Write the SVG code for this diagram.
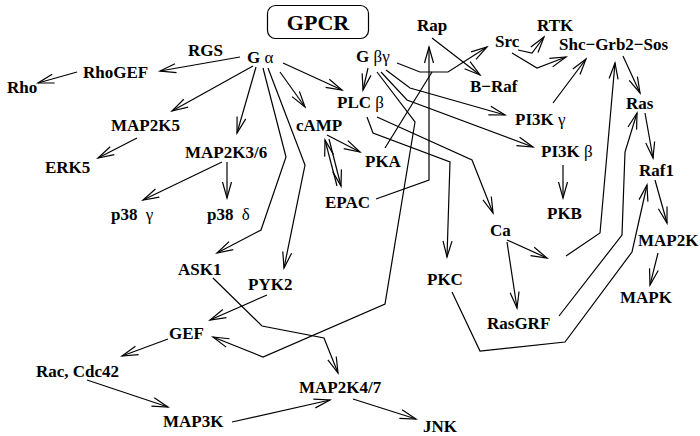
<svg xmlns="http://www.w3.org/2000/svg" width="700" height="436" viewBox="0 0 700 436">
<style>
.t{font-family:"Liberation Serif","Times New Roman",serif;font-weight:bold;font-size:17px;fill:#000}
.g{font-weight:normal}
.e path{fill:none;stroke:#000;stroke-width:1.2;marker-end:url(#a)}
.e path.n{marker-end:none}
</style>
<defs>
<marker id="a" markerUnits="userSpaceOnUse" markerWidth="20" markerHeight="12" viewBox="-18 -6 20 12" refX="0" refY="0" orient="auto">
<path d="M-16,-4.5 L0,0 L-16,4.5" fill="none" stroke="#000" stroke-width="1.2"/>
</marker>
</defs>
<rect width="700" height="436" fill="#fff"/>
<g id="n-gpcr"><rect x="267.5" y="5.5" width="101" height="33" rx="8" fill="none" stroke="#000" stroke-width="1.2"/><text class="t" x="318" y="30" text-anchor="middle" style="font-size:22px">GPCR</text></g>
<g id="n-ga"><text class="t" x="247" y="63">G <tspan class="g">α</tspan></text></g>
<g id="n-gbg"><text class="t" x="356" y="62">G <tspan class="g">βγ</tspan></text></g>
<g id="lbl-rgs"><text class="t" x="188" y="56">RGS</text></g>
<g id="n-rhogef"><text class="t" x="83" y="78">RhoGEF</text></g>
<g id="n-rho"><text class="t" x="7" y="93">Rho</text></g>
<g id="n-map2k5"><text class="t" x="111" y="131">MAP2K5</text></g>
<g id="n-map2k36"><text class="t" x="185" y="158">MAP2K3/6</text></g>
<g id="n-erk5"><text class="t" x="45" y="173">ERK5</text></g>
<g id="n-p38g"><text class="t" x="111" y="220">p38 <tspan class="g" dx="4">γ</tspan></text></g>
<g id="n-p38d"><text class="t" x="207" y="220">p38 <tspan class="g" dx="4">δ</tspan></text></g>
<g id="n-ask1"><text class="t" x="178" y="275">ASK1</text></g>
<g id="n-pyk2"><text class="t" x="248" y="290">PYK2</text></g>
<g id="n-gef"><text class="t" x="169" y="339">GEF</text></g>
<g id="n-rac"><text class="t" x="36" y="377">Rac, Cdc42</text></g>
<g id="n-map3k"><text class="t" x="163" y="427">MAP3K</text></g>
<g id="n-map2k47"><text class="t" x="299" y="393">MAP2K4/7</text></g>
<g id="n-jnk"><text class="t" x="423" y="432">JNK</text></g>
<g id="n-camp"><text class="t" x="296" y="131">cAMP</text></g>
<g id="n-plcb"><text class="t" x="337" y="108">PLC <tspan class="g">β</tspan></text></g>
<g id="n-pka"><text class="t" x="365" y="167">PKA</text></g>
<g id="n-epac"><text class="t" x="325" y="208">EPAC</text></g>
<g id="n-rap"><text class="t" x="417" y="31">Rap</text></g>
<g id="n-src"><text class="t" x="495" y="47">Src</text></g>
<g id="n-rtk"><text class="t" x="537" y="31">RTK</text></g>
<g id="n-shc"><text class="t" x="559" y="50">Shc−Grb2−Sos</text></g>
<g id="n-braf"><text class="t" x="470" y="92">B−Raf</text></g>
<g id="n-ras"><text class="t" x="626" y="109">Ras</text></g>
<g id="n-pi3kg"><text class="t" x="515" y="125">PI3K <tspan class="g">γ</tspan></text></g>
<g id="n-pi3kb"><text class="t" x="541" y="157">PI3K <tspan class="g">β</tspan></text></g>
<g id="n-raf1"><text class="t" x="639" y="176">Raf1</text></g>
<g id="n-pkb"><text class="t" x="547" y="219">PKB</text></g>
<g id="n-ca"><text class="t" x="490" y="236">Ca</text></g>
<g id="n-map2k"><text class="t" x="638" y="246">MAP2K</text></g>
<g id="n-pkc"><text class="t" x="427" y="285">PKC</text></g>
<g id="n-rasgrf"><text class="t" x="487" y="329">RasGRF</text></g>
<g id="n-mapk"><text class="t" x="620" y="303">MAPK</text></g>
<g id="edges" class="e">
<path d="M240,57 L160,71"/>
<path d="M77,72 L38,83"/>
<path d="M253,66 L172,111"/>
<path d="M256,67 L237,133"/>
<path d="M263,68 L286,157 L261,230 L217,253"/>
<path d="M268,68 L305,165 L284,268"/>
<path d="M280,72 L305,107"/>
<path d="M283,63 L342,90"/>
<path d="M137,138 L98,158"/>
<path d="M222,162 L143,200"/>
<path d="M227,162 L227,198"/>
<path d="M213,278 L262,326 L324,338 L338,373"/>
<path d="M267,295 L210,320"/>
<path d="M377,72 L415,122 L385,304 L263,357 L213,337"/>
<path d="M168,339 L122,356"/>
<path d="M87,380 L168,407"/>
<path d="M232,422 L330,400"/>
<path d="M353,399 L416,419"/>
<path d="M327,135 L360,152"/>
<path d="M337,186 L325,140"/>
<path d="M329,139 L341,186"/>
<path d="M368,68 L363,90"/>
<path d="M397,63 L420,72 L448,72 L487,47"/>
<path class="n" d="M385,148 L432,72"/>
<path d="M376,199 L429,180 L429,47"/>
<path d="M432,38 L480,75"/>
<path d="M386,70 L410,88 L505,115"/>
<path d="M381,72 L407,100 L533,147"/>
<path d="M367,117 L373,133 L450,162 L447,257"/>
<path d="M377,117 L472,160 L493,213"/>
<path d="M518,50 L532,53 L544,37"/>
<path d="M512,53 L537,68 L566,57"/>
<path d="M553,103 L586,59"/>
<path d="M623,56 L640,93"/>
<path d="M645,113 L653,158"/>
<path d="M655,180 L667,223"/>
<path d="M658,253 L650,285"/>
<path d="M563,165 L563,198"/>
<path d="M507,240 L547,258"/>
<path d="M566,256 L600,233 L615,63"/>
<path d="M507,242 L517,308"/>
<path d="M559,316 L622,235 L625,152 L637,113"/>
<path d="M452,292 L480,351 L565,342 L632,252 L647,185"/>
</g>
</svg>
